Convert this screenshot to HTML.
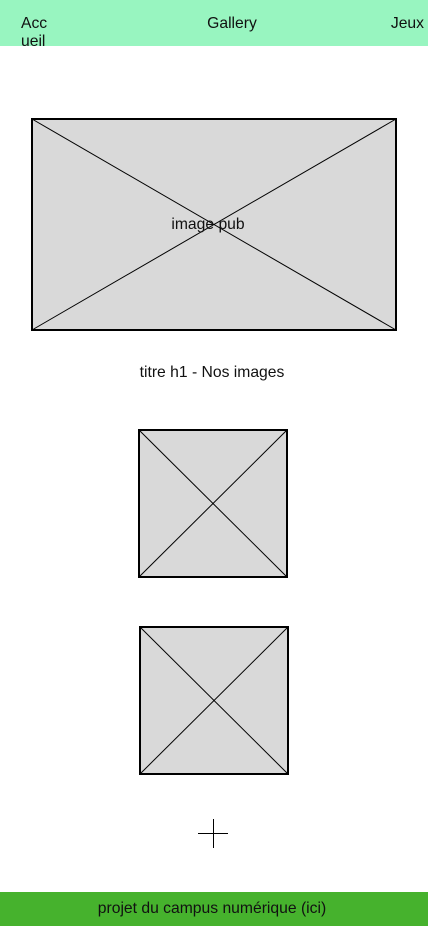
<!DOCTYPE html>
<html><head><meta charset="utf-8">
<style>
html,body{margin:0;padding:0;background:#fff;width:428px;height:926px;overflow:hidden}
svg{display:block}
text{font-family:"Liberation Sans",sans-serif;font-size:15.7px;fill:#111}
</style></head>
<body>
<svg width="428" height="926" viewBox="0 0 428 926">
  <defs><clipPath id="hc"><rect x="0" y="0" width="428" height="46"/></clipPath></defs>
  <rect x="0" y="0" width="428" height="46" fill="#98f5c0"/>
  <g clip-path="url(#hc)">
  <text x="21" y="28">Acc</text>
  <text x="21" y="46">ueil</text>
  </g>
  <text x="232" y="28" text-anchor="middle">Gallery</text>
  <text x="424" y="28" text-anchor="end">Jeux</text>

  <g>
    <rect x="32" y="119" width="364" height="211" fill="#d9d9d9" stroke="#000" stroke-width="2"/>
    <line x1="32" y1="119" x2="396" y2="330" stroke="#000" stroke-width="1"/>
    <line x1="396" y1="119" x2="32" y2="330" stroke="#000" stroke-width="1"/>
    <text x="208" y="229" text-anchor="middle">image pub</text>
  </g>

  <text x="212" y="377" text-anchor="middle">titre h1 - Nos images</text>

  <g>
    <rect x="139" y="430" width="148" height="147" fill="#d9d9d9" stroke="#000" stroke-width="2"/>
    <line x1="139" y1="430" x2="287" y2="577" stroke="#000"/>
    <line x1="287" y1="430" x2="139" y2="577" stroke="#000"/>
  </g>
  <g>
    <rect x="140" y="627" width="148" height="147" fill="#d9d9d9" stroke="#000" stroke-width="2"/>
    <line x1="140" y1="627" x2="288" y2="774" stroke="#000"/>
    <line x1="288" y1="627" x2="140" y2="774" stroke="#000"/>
  </g>

  <g>
    <line x1="198" y1="833.5" x2="228" y2="833.5" stroke="#000" stroke-width="1"/>
    <line x1="213.5" y1="819" x2="213.5" y2="848" stroke="#000" stroke-width="1"/>
  </g>

  <rect x="0" y="892" width="428" height="34" fill="#46b22d"/>
  <text x="212" y="913" text-anchor="middle">projet du campus numérique (ici)</text>
</svg>
</body></html>
